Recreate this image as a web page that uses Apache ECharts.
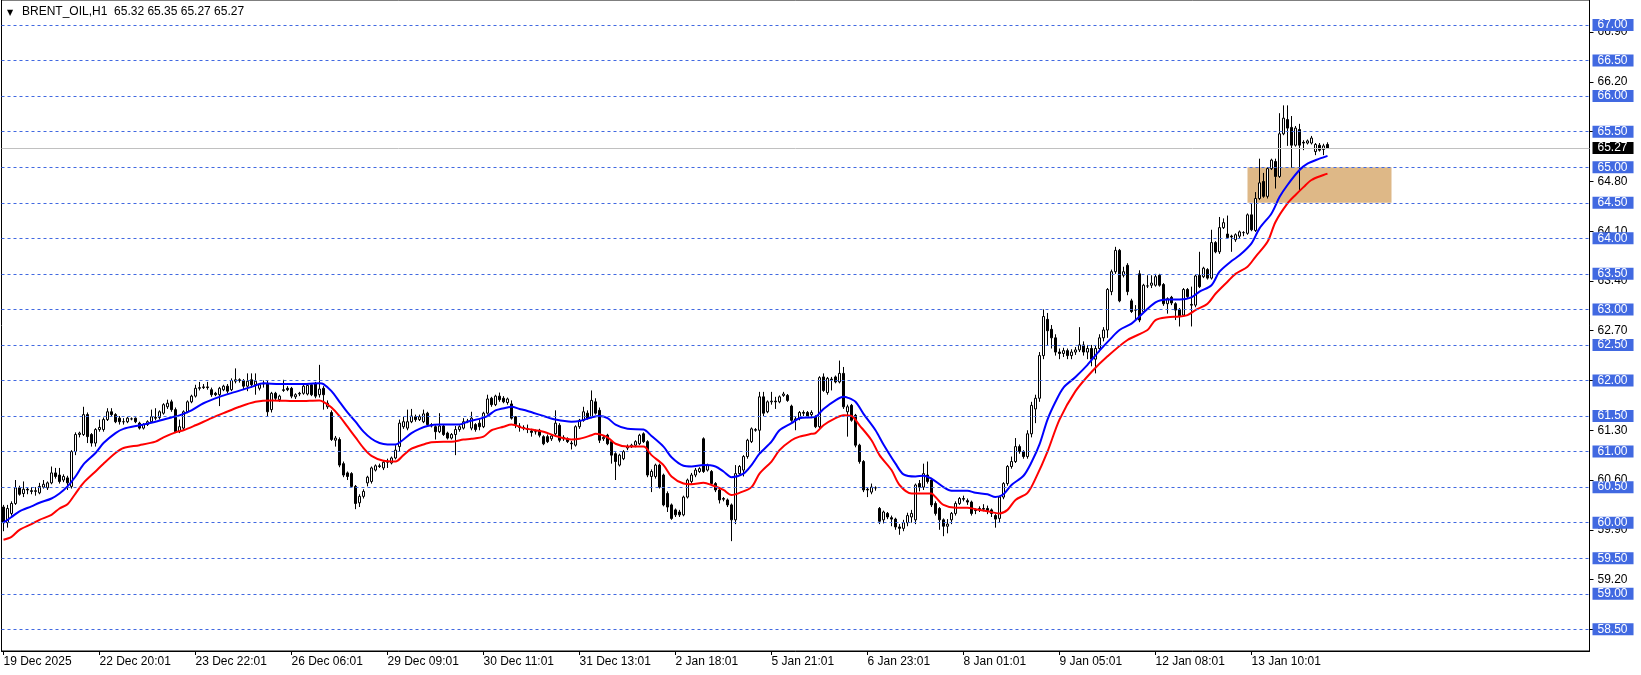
<!DOCTYPE html>
<html><head><meta charset="utf-8">
<script src="https://cdn.jsdelivr.net/npm/echarts@6/dist/echarts.min.js"></script>
<style>html,body{margin:0;padding:0;background:#fff}#c{width:1641px;height:675px}</style>
</head><body><div id="c"></div>
<script>
const symbolName = 'BRENT_OIL,H1';
const timeLabels = ['19 Dec 2025','22 Dec 20:01','23 Dec 22:01','26 Dec 06:01','29 Dec 09:01','30 Dec 11:01','31 Dec 13:01','2 Jan 18:01','5 Jan 21:01','6 Jan 23:01','8 Jan 01:01','9 Jan 05:01','12 Jan 08:01','13 Jan 10:01'];
const barsPerLabel = 24;
const slotCount = 397;
// [open, close, low, high]
const candles = [
[60.22,60.00,59.88,60.25],[60.00,60.20,59.93,60.25],[60.13,60.27,60.10,60.30],[60.27,60.49,60.25,60.60],[60.49,60.40,60.38,60.52],
[60.41,60.47,60.36,60.58],[60.47,60.46,60.40,60.50],[60.45,60.44,60.40,60.50],[60.44,60.45,60.38,60.50],[60.42,60.51,60.40,60.56],
[60.50,60.54,60.48,60.60],[60.49,60.56,60.46,60.58],[60.56,60.70,60.54,60.79],[60.70,60.65,60.62,60.77],[60.67,60.58,60.55,60.77],
[60.60,60.65,60.57,60.68],[60.63,60.56,60.46,60.66],[60.51,61.00,60.48,61.02],[61.00,61.24,60.95,61.27],[61.24,61.26,61.20,61.28],
[61.24,61.52,61.22,61.63],[61.52,61.21,61.12,61.55],[61.24,61.12,61.07,61.26],[61.12,61.31,61.07,61.33],[61.31,61.34,61.28,61.45],
[61.31,61.45,61.28,61.48],[61.45,61.56,61.43,61.61],[61.56,61.52,61.50,61.61],[61.52,61.42,61.40,61.54],[61.47,61.42,61.38,61.50],
[61.42,61.42,61.38,61.47],[61.42,61.47,61.40,61.49],[61.46,61.46,61.44,61.48],[61.47,61.42,61.40,61.48],[61.40,61.33,61.31,61.42],
[61.33,61.38,61.31,61.40],[61.38,61.42,61.36,61.44],[61.42,61.49,61.40,61.59],[61.48,61.47,61.44,61.61],[61.48,61.56,61.45,61.58],
[61.54,61.66,61.52,61.68],[61.63,61.68,61.60,61.73],[61.70,61.59,61.56,61.73],[61.59,61.28,61.26,61.62],[61.28,61.35,61.26,61.45],
[61.33,61.56,61.30,61.58],[61.56,61.70,61.54,61.72],[61.70,61.78,61.68,61.80],[61.78,61.89,61.76,61.94],[61.89,61.90,61.86,61.98],
[61.90,61.91,61.88,61.95],[61.91,61.90,61.87,61.98],[61.87,61.80,61.77,61.90],[61.82,61.80,61.78,61.84],[61.80,61.89,61.64,61.91],
[61.87,61.92,61.85,61.94],[61.92,61.85,61.82,61.95],[61.87,62.00,61.85,62.03],[61.99,62.01,61.96,62.17],[62.01,62.00,61.97,62.03],
[62.00,61.92,61.88,62.02],[61.92,61.99,61.85,62.10],[62.01,61.94,61.90,62.10],[61.94,61.99,61.80,62.10],[61.89,61.94,61.86,61.96],
[61.95,61.96,61.90,62.00],[61.96,61.56,61.49,62.00],[61.59,61.82,61.55,61.84],[61.82,61.75,61.72,61.84],[61.73,61.78,61.70,61.80],
[61.86,61.87,61.84,62.01],[61.89,61.87,61.85,61.92],[61.89,61.78,61.75,61.91],[61.77,61.80,61.74,61.82],[61.81,61.82,61.78,61.84],
[61.82,61.92,61.80,61.94],[61.81,61.93,61.79,61.95],[61.94,61.80,61.78,61.96],[61.96,61.78,61.75,61.98],[61.80,61.88,61.76,62.22],
[61.89,61.80,61.59,61.92],[61.63,61.68,61.60,61.72],[61.55,61.17,61.15,61.58],[61.16,61.19,61.07,61.22],[61.17,60.81,60.78,61.20],
[60.83,60.67,60.64,60.86],[60.70,60.65,60.60,60.72],[60.69,60.51,60.49,60.71],[60.51,60.27,60.19,60.53],[60.28,60.37,60.22,60.40],
[60.37,60.44,60.34,60.47],[60.56,60.64,60.51,60.66],[60.58,60.77,60.55,60.79],[60.74,60.80,60.72,60.82],[60.80,60.79,60.77,60.83],
[60.77,60.85,60.74,60.87],[60.85,60.86,60.77,60.90],[60.84,60.91,60.82,60.93],[60.91,61.02,60.89,61.09],[61.07,61.40,61.00,61.45],
[61.35,61.42,61.32,61.49],[61.33,61.42,61.30,61.59],[61.42,61.50,61.40,61.60],[61.49,61.45,61.42,61.52],[61.45,61.49,61.43,61.52],
[61.42,61.53,61.40,61.59],[61.54,61.38,61.35,61.56],[61.36,61.38,61.34,61.40],[61.35,61.28,61.17,61.37],[61.28,61.36,61.26,61.54],
[61.36,61.24,61.22,61.38],[61.26,61.19,61.17,61.28],[61.19,61.24,61.17,61.26],[61.24,61.31,60.95,61.36],[61.31,61.35,61.28,61.37],
[61.33,61.42,61.31,61.47],[61.42,61.43,61.40,61.46],[61.33,61.47,61.30,61.56],[61.38,61.31,61.28,61.40],[61.40,61.35,61.30,61.45],
[61.35,61.54,61.33,61.56],[61.54,61.74,61.52,61.80],[61.75,61.66,61.63,61.77],[61.66,61.78,61.64,61.80],[61.78,61.73,61.70,61.83],
[61.75,61.70,61.68,61.78],[61.69,61.74,61.66,61.76],[61.67,61.47,61.45,61.72],[61.49,61.38,61.33,61.50],[61.36,61.34,61.28,61.40],
[61.34,61.33,61.30,61.37],[61.32,61.31,61.26,61.38],[61.29,61.27,61.21,61.32],[61.28,61.28,61.24,61.31],[61.30,61.23,61.20,61.32],
[61.21,61.11,61.09,61.23],[61.21,61.14,61.12,61.24],[61.18,61.22,61.15,61.24],[61.25,61.40,61.22,61.58],[61.37,61.16,61.13,61.40],
[61.18,61.20,61.15,61.23],[61.18,61.14,61.12,61.20],[61.12,61.11,61.03,61.15],[61.09,61.35,61.07,61.37],[61.35,61.44,61.32,61.46],
[61.44,61.56,61.42,61.63],[61.54,61.47,61.45,61.58],[61.49,61.72,61.47,61.86],[61.70,61.54,61.52,61.75],[61.58,61.16,61.12,61.62],
[61.18,61.20,61.15,61.23],[61.23,61.11,61.09,61.25],[61.14,60.95,60.83,61.16],[60.97,60.86,60.60,60.99],[60.81,60.95,60.79,60.97],
[60.90,61.00,60.88,61.02],[61.05,61.07,61.02,61.10],[61.07,61.09,61.05,61.11],[61.09,61.14,61.06,61.16],[61.11,61.23,61.09,61.25],
[61.25,61.14,61.12,61.27],[61.14,60.67,60.64,61.16],[60.65,60.72,60.43,60.75],[60.65,60.81,60.62,60.83],[60.81,60.50,60.48,60.83],
[60.67,60.25,60.23,60.69],[60.41,60.22,60.15,60.44],[60.25,60.06,60.04,60.27],[60.18,60.11,60.08,60.20],[60.15,60.11,60.08,60.18],
[60.11,60.36,60.09,60.38],[60.36,60.60,60.34,60.62],[60.58,60.67,60.55,60.70],[60.67,60.74,60.64,60.77],[60.72,60.76,60.70,60.78],
[61.18,60.72,60.70,61.20],[60.74,60.81,60.72,60.83],[60.72,60.55,60.53,60.74],[60.55,60.46,60.43,60.57],[60.46,60.32,60.27,60.48],
[60.34,60.33,60.30,60.36],[60.32,60.25,60.22,60.34],[60.25,60.04,59.74,60.27],[60.04,60.69,59.98,60.81],[60.69,60.79,60.67,60.81],
[60.74,60.93,60.65,60.95],[60.93,61.16,60.90,61.18],[61.14,61.32,61.12,61.34],[61.30,61.31,61.28,61.33],[61.30,61.77,60.97,61.84],
[61.77,61.54,61.50,61.84],[61.56,61.70,61.54,61.72],[61.70,61.71,61.66,61.84],[61.71,61.70,61.60,61.77],[61.70,61.77,61.68,61.79],
[61.79,61.81,61.77,61.84],[61.79,61.72,61.70,61.81],[61.64,61.44,61.42,61.66],[61.46,61.44,61.30,61.49],[61.47,61.55,61.44,61.57],
[61.55,61.54,61.50,61.58],[61.55,61.49,61.47,61.57],[61.52,61.55,61.47,61.58],[61.49,61.35,61.33,61.51],[61.35,62.04,61.32,62.06],
[62.05,61.86,61.84,62.10],[61.83,62.03,61.80,62.05],[62.02,62.01,61.86,62.05],[62.05,61.98,61.96,62.07],[61.98,62.10,61.96,62.28],
[62.10,61.63,61.60,62.19],[61.56,61.63,61.21,61.66],[61.65,61.44,61.42,61.67],[61.51,61.09,61.06,61.53],[61.09,60.86,60.83,61.11],
[60.86,60.46,60.43,60.88],[60.47,60.46,60.36,60.50],[60.43,60.50,60.40,60.55],[60.49,60.49,60.45,60.51],[60.20,60.02,59.98,60.22],
[60.04,60.15,59.99,60.17],[60.13,60.08,60.05,60.15],[60.07,60.05,59.95,60.10],[60.05,59.94,59.90,60.07],[59.94,59.92,59.83,59.98],
[59.92,60.00,59.88,60.04],[60.00,60.10,59.95,60.14],[60.08,60.13,60.00,60.18],[60.04,60.53,59.98,60.55],[60.55,60.50,60.44,60.60],
[60.50,60.69,60.46,60.83],[60.67,60.58,60.55,60.86],[60.60,60.25,60.22,60.63],[60.27,60.13,60.10,60.30],[60.20,60.04,59.90,60.22],
[60.04,59.95,59.81,60.06],[59.95,59.98,59.85,60.05],[60.04,60.13,59.98,60.15],[60.13,60.27,60.10,60.30],[60.27,60.34,60.25,60.36],
[60.34,60.33,60.30,60.38],[60.31,60.29,60.25,60.34],[60.29,60.13,60.10,60.31],[60.18,60.17,60.12,60.20],[60.18,60.20,60.15,60.23],
[60.20,60.19,60.16,60.26],[60.20,60.17,60.12,60.24],[60.18,60.13,60.08,60.20],[60.10,60.05,59.93,60.12],[60.06,60.36,60.00,60.38],
[60.36,60.55,60.33,60.57],[60.55,60.79,60.52,60.81],[60.79,60.86,60.76,60.93],[60.86,61.07,60.84,61.19],[61.07,61.00,60.97,61.10],
[61.00,60.93,60.90,61.02],[60.93,61.25,60.90,61.30],[61.25,61.65,61.20,61.70],[61.60,61.75,61.40,61.80],[61.75,62.35,61.70,62.40],
[62.35,62.90,62.30,63.00],[62.86,62.70,62.50,62.95],[62.72,62.60,62.45,62.78],[62.60,62.40,62.35,62.65],[62.40,62.38,62.30,62.45],
[62.38,62.42,62.33,62.46],[62.42,62.35,62.30,62.45],[62.35,62.40,62.30,62.44],[62.40,62.43,62.36,62.47],[62.43,62.50,62.40,62.75],
[62.50,62.40,62.35,62.55],[62.40,62.45,62.30,62.50],[62.45,62.30,62.20,62.50],[62.30,62.45,62.10,62.50],[62.45,62.60,62.40,62.65],
[62.60,62.71,62.55,62.75],[62.71,63.28,62.60,63.30],[63.25,63.53,63.20,63.56],[63.53,63.83,63.50,63.88],[63.83,63.12,63.10,63.85],
[63.48,63.53,63.45,63.60],[63.62,63.25,63.20,63.65],[63.12,62.97,62.95,63.15],[62.99,62.99,62.85,63.06],[63.50,62.85,62.82,63.55],
[62.97,63.34,62.95,63.36],[63.33,63.33,63.30,63.48],[63.34,63.37,63.30,63.48],[63.34,63.46,63.32,63.50],[63.48,63.34,63.32,63.50],
[63.35,63.08,63.05,63.37],[63.08,63.15,62.94,63.17],[63.17,63.09,63.06,63.19],[63.08,62.99,62.85,63.10],[63.00,62.90,62.76,63.02],
[62.92,63.28,62.90,63.30],[63.28,63.18,63.15,63.30],[63.07,63.06,62.76,63.32],[63.06,63.47,63.03,63.49],[63.48,63.32,63.30,63.81],
[63.46,63.58,63.44,63.60],[63.56,63.44,63.42,63.58],[63.44,63.94,63.42,64.12],[63.94,63.81,63.79,63.96],[63.81,64.15,63.78,64.30],
[64.15,64.22,64.13,64.28],[64.06,64.01,63.99,64.32],[64.03,64.02,63.81,64.05],[63.98,64.05,63.95,64.07],[64.03,64.09,64.00,64.11],
[64.08,64.08,64.03,64.10],[64.07,64.33,64.05,64.35],[64.33,64.12,64.10,64.49],[64.11,64.56,64.09,64.65],[64.56,64.78,64.54,65.12],
[64.80,64.59,64.57,64.92],[64.59,64.98,64.56,65.00],[64.98,65.10,64.96,65.12],[65.08,64.87,64.70,65.12],[64.87,65.47,64.85,65.76],
[65.47,65.69,65.45,65.87],[65.67,65.55,65.30,65.87],[65.56,65.31,64.99,65.72],[65.31,65.55,65.29,65.58],[65.53,65.31,64.68,65.61],
[65.35,65.34,65.24,65.38],[65.34,65.37,65.32,65.39],[65.34,65.41,65.32,65.44],[65.22,65.32,65.17,65.34],[65.31,65.24,65.22,65.34],
[65.25,65.30,65.17,65.33],[65.32,65.27,65.27,65.35]
];
// moving averages: [barIndex, value]
const blueMA = [[0,60.0],[2,60.08],[4,60.16],[7,60.23],[9,60.28],[12,60.34],[14,60.41],[16,60.51],[18,60.65],[20,60.82],[23,60.98],[25,61.12],[28,61.26],[30,61.32],[34,61.37],[38,61.42],[42,61.48],[44,61.51],[47,61.58],[50,61.68],[54,61.77],[58,61.84],[62,61.91],[65,61.96],[69,61.95],[74,61.95],[79,61.96],[80,61.95],[82,61.85],[84,61.7],[86,61.55],[88,61.42],[90,61.28],[92,61.18],[94,61.12],[96,61.1],[98,61.1],[100,61.17],[102,61.26],[104,61.32],[106,61.36],[109,61.38],[114,61.38],[116,61.42],[119,61.46],[121,61.5],[123,61.58],[126,61.62],[127,61.63],[129,61.6],[131,61.57],[135,61.5],[138,61.45],[142,61.42],[144,61.43],[147,61.48],[149,61.5],[151,61.47],[153,61.38],[156,61.32],[160,61.31],[162,61.22],[165,61.07],[167,60.92],[170,60.8],[172,60.79],[175,60.81],[178,60.79],[180,60.72],[182,60.64],[185,60.69],[187,60.81],[189,60.97],[192,61.14],[194,61.3],[197,61.4],[199,61.47],[203,61.49],[205,61.6],[208,61.72],[210,61.77],[211,61.76],[213,61.7],[215,61.53],[218,61.3],[220,61.1],[223,60.83],[225,60.68],[228,60.65],[230,60.66],[232,60.62],[235,60.5],[237,60.45],[241,60.45],[243,60.42],[246,60.4],[248,60.36],[250,60.4],[252,60.53],[255,60.66],[257,60.85],[259,61.1],[261,61.45],[263,61.7],[265,61.9],[268,62.05],[271,62.22],[274,62.42],[277,62.6],[279,62.71],[282,62.8],[284,62.9],[288,63.1],[291,63.14],[294,63.14],[297,63.17],[299,63.25],[302,63.34],[304,63.53],[307,63.68],[309,63.76],[312,63.93],[314,64.14],[317,64.35],[319,64.58],[321,64.75],[324,64.96],[326,65.05],[329,65.12],[331,65.16]];
const redMA = [[0,59.76],[2,59.8],[4,59.9],[7,59.98],[9,60.04],[12,60.11],[14,60.2],[16,60.26],[18,60.41],[20,60.56],[23,60.72],[25,60.83],[28,60.98],[30,61.05],[34,61.09],[38,61.14],[40,61.2],[43,61.27],[45,61.3],[48,61.37],[52,61.47],[55,61.54],[59,61.63],[63,61.7],[67,61.72],[74,61.71],[79,61.72],[80,61.7],[82,61.62],[84,61.5],[86,61.35],[88,61.2],[90,61.05],[92,60.94],[95,60.87],[98,60.86],[100,60.95],[102,61.04],[105,61.1],[107,61.13],[110,61.14],[112,61.14],[115,61.17],[117,61.18],[120,61.21],[122,61.3],[125,61.35],[127,61.38],[130,61.33],[132,61.31],[135,61.28],[138,61.22],[142,61.17],[144,61.18],[147,61.23],[148,61.25],[151,61.2],[153,61.11],[156,61.07],[160,61.07],[162,60.95],[165,60.81],[167,60.65],[170,60.55],[172,60.54],[175,60.56],[177,60.53],[180,60.46],[182,60.39],[184,60.42],[187,60.5],[189,60.69],[192,60.86],[194,61.02],[197,61.16],[199,61.21],[202,61.25],[203,61.26],[205,61.37],[208,61.47],[210,61.51],[212,61.5],[214,61.37],[217,61.16],[219,60.95],[222,60.74],[224,60.53],[227,60.41],[232,60.41],[233,60.36],[235,60.25],[238,60.21],[241,60.21],[243,60.19],[246,60.16],[249,60.13],[251,60.18],[253,60.32],[256,60.42],[258,60.62],[261,61.0],[264,61.45],[268,61.85],[272,62.12],[276,62.34],[281,62.57],[286,62.71],[288,62.85],[291,62.89],[294,62.9],[296,62.92],[298,62.99],[301,63.08],[303,63.22],[306,63.39],[308,63.5],[311,63.6],[313,63.74],[316,63.95],[318,64.23],[321,64.49],[323,64.61],[325,64.72],[327,64.82],[330,64.89],[331,64.91]];
const levels = [58.5,59.0,59.5,60.0,60.5,61.0,61.5,62.0,62.5,63.0,63.5,64.0,64.5,65.0,65.5,66.0,66.5,67.0];
const scaleTicks = [58.5,59.2,59.9,60.6,61.3,62.0,62.7,63.4,64.1,64.8,65.5,66.2,66.9];
const lastPrice = 65.27;
const zoneBars = [311, 347];
const zonePrices = [64.5, 65.0];
const priceMin = 58.195, priceMax = 67.352;

const FONT = 'Liberation Sans, Arial, sans-serif';
const chart = echarts.init(document.getElementById('c'), null, {renderer: 'canvas'});
const cats = Array.from({length: slotCount}, (_, i) => String(i));
const showTick = (idx) => idx % barsPerLabel === 0 && idx / barsPerLabel < timeLabels.length;
const last = candles[candles.length - 1];
const header = symbolName + '  ' + [last[0], last[3], last[2], last[1]].map(v => v.toFixed(2)).join(' ');

chart.setOption({
  animation: false,
  backgroundColor: '#fff',
  textStyle: {fontFamily: FONT},
  graphic: [
    {type: 'text', left: 7, top: 9, z: 100, style: {text: '▼', font: '8px DejaVu Sans', fill: '#000'}},
    {type: 'text', left: 22, top: 6, z: 100, style: {text: header, font: '12px Liberation Sans', fill: '#000'}}
  ],
  grid: {left: 1.5, right: 51.5, top: 0, bottom: 24, show: true, borderColor: '#000', borderWidth: 1, backgroundColor: '#fff'},
  xAxis: {
    type: 'category', data: cats, boundaryGap: true,
    axisLine: {lineStyle: {color: '#000', width: 1}},
    axisTick: {show: true, alignWithLabel: true, interval: showTick, length: 4, lineStyle: {color: '#000'}},
    axisLabel: {interval: showTick, formatter: (v, idx) => timeLabels[Math.round(idx / barsPerLabel)] || '',
      align: 'left', margin: 5, fontSize: 12, color: '#000', fontFamily: FONT, showMaxLabel: true, hideOverlap: false},
    splitLine: {show: false}
  },
  yAxis: [
    {type: 'value', position: 'right', min: priceMin, max: priceMax, scale: true, z: 2,
      axisLine: {show: true, lineStyle: {color: '#000'}},
      axisTick: {show: true, customValues: scaleTicks, length: 4, lineStyle: {color: '#000'}},
      axisLabel: {customValues: scaleTicks, formatter: v => v.toFixed(2), margin: 8, fontSize: 12, color: '#000', fontFamily: FONT},
      splitLine: {show: false}},
    {type: 'value', position: 'right', min: priceMin, max: priceMax, scale: true, z: 5,
      axisLine: {show: false}, axisTick: {show: false}, splitLine: {show: false},
      axisLabel: {customValues: levels.concat([lastPrice]), margin: 3, fontFamily: FONT,
        formatter: v => (Math.abs(v - lastPrice) < 1e-6 ? '{p|' : '{h|') + v.toFixed(2) + '}',
        rich: {
          h: {backgroundColor: '#4169E1', color: '#fff', fontSize: 12, lineHeight: 14, padding: [0, 6, 0, 5], fontFamily: FONT},
          p: {backgroundColor: '#000', color: '#fff', fontSize: 12, lineHeight: 14, padding: [0, 6, 0, 5], fontFamily: FONT}
        }}}
  ],
  series: [
    {type: 'candlestick', data: candles.map(c => [c[0], c[1], c[2], c[3]]), barWidth: 2, z: 3,
      itemStyle: {color: '#fff', color0: '#000', borderColor: '#000', borderColor0: '#000', borderWidth: 1},
      markArea: {silent: true, itemStyle: {color: '#DEB887', opacity: 1},
        data: [[{xAxis: zoneBars[0], yAxis: zonePrices[0]}, {xAxis: zoneBars[1], yAxis: zonePrices[1]}]]},
      markLine: {silent: true, symbol: 'none', label: {show: false}, animation: false,
        data: levels.map(v => ({yAxis: v, lineStyle: {color: '#4169E1', type: [3, 3], width: 1}}))
          .concat([{yAxis: lastPrice, lineStyle: {color: '#C0C0C0', type: 'solid', width: 1}}])}
    },
    {type: 'line', data: blueMA, showSymbol: false, smooth: 0.3, z: 4, lineStyle: {color: '#0000FF', width: 2}},
    {type: 'line', data: redMA, showSymbol: false, smooth: 0.3, z: 4, lineStyle: {color: '#FF0000', width: 2}}
  ]
});
</script></body></html>
